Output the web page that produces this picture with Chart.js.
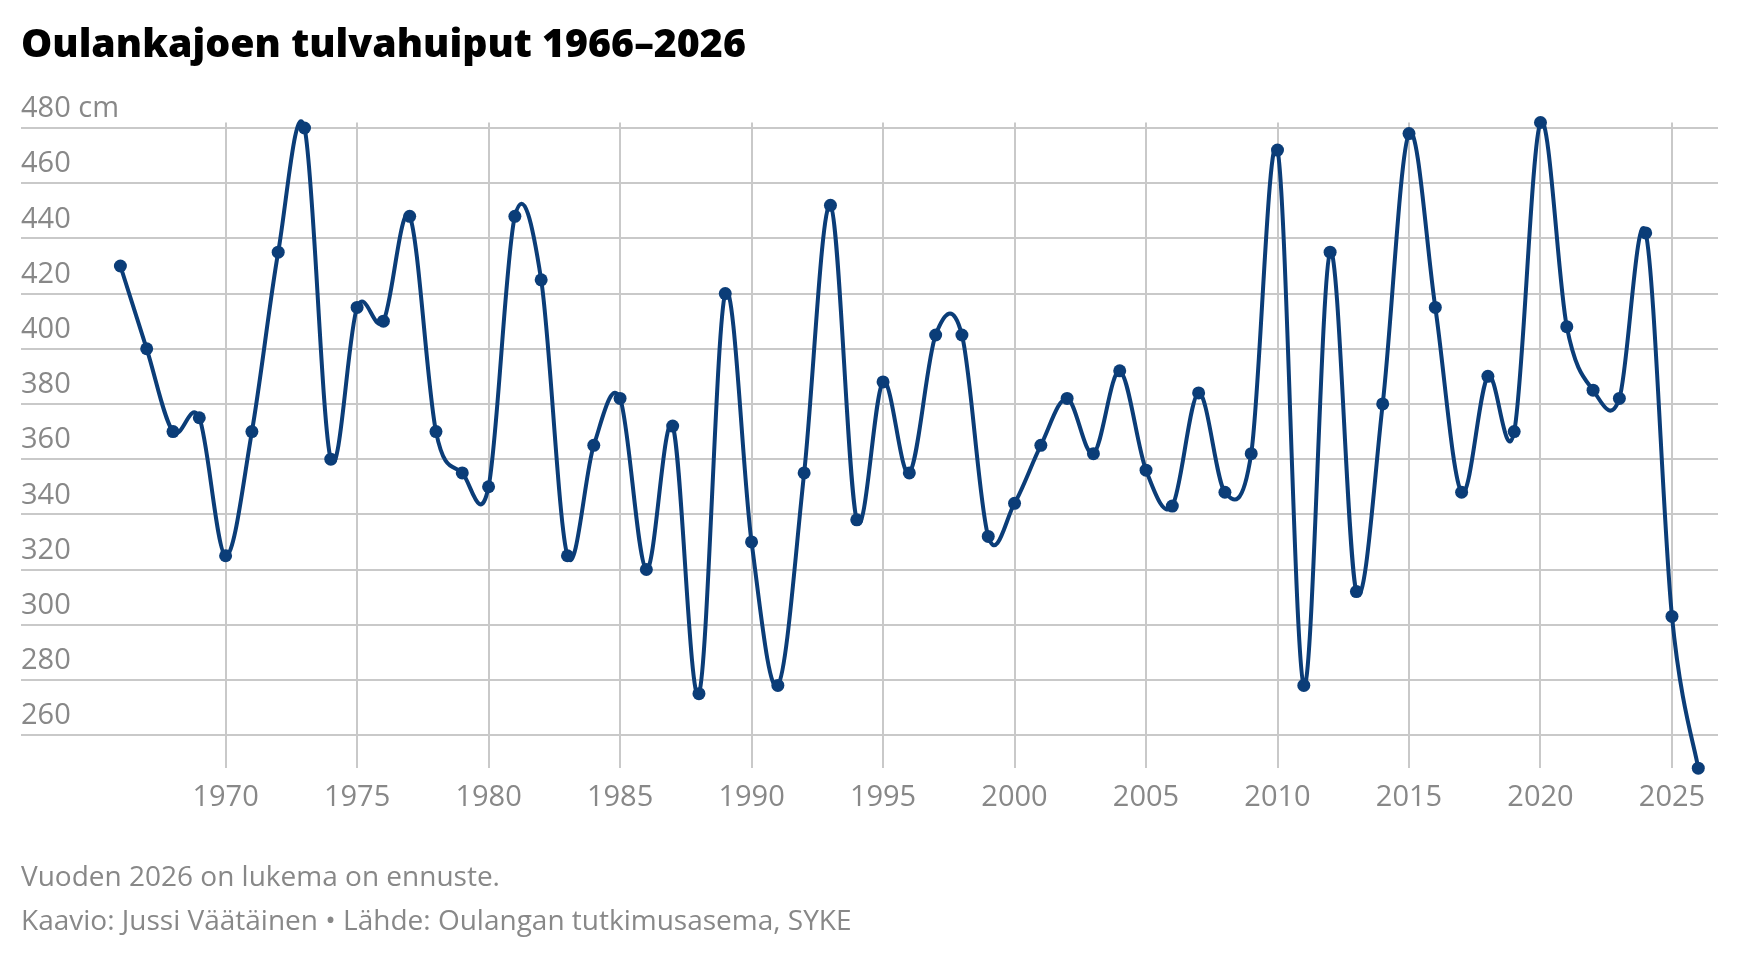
<!DOCTYPE html>
<html><head><meta charset="utf-8">
<script src="https://cdn.jsdelivr.net/npm/chart.js@4/dist/chart.umd.min.js"></script>
<style>
html,body{margin:0;padding:0;background:#fff;width:1740px;height:958px;overflow:hidden;font-family:"Open Sans",sans-serif;}
#wrap{position:absolute;left:0;top:0;width:1740px;height:958px;}
.t{position:absolute;left:21px;white-space:nowrap;line-height:1;}
#title{top:23px;font-size:39.3px;font-weight:800;color:#000;}
.note{font-size:28px;color:#888888;}
</style></head><body>
<div id="wrap"><canvas id="c" width="1740" height="958"></canvas></div>
<div class="t" id="title">Oulankajoen tulvahuiput 1966–2026</div>
<div class="t note" style="top:861px">Vuoden 2026 on lukema on ennuste.</div>
<div class="t note" style="top:905px">Kaavio: Jussi Väätäinen • Lähde: Oulangan tutkimusasema, SYKE</div>
<script>
const years = [1966,1967,1968,1969,1970,1971,1972,1973,1974,1975,1976,1977,1978,1979,1980,
  1981,1982,1983,1984,1985,1986,1987,1988,1989,1990,1991,1992,1993,1994,1995,1996,1997,1998,1999,2000,
  2001,2002,2003,2004,2005,2006,2007,2008,2009,2010,2011,2012,2013,2014,2015,2016,2017,2018,2019,2020,
  2021,2022,2023,2024,2025,2026];
const peaks = [430,400,370,375,325,370,435,480,360,415,410,448,370,355,350,
  448,425,325,365,382,320,372,275,420,330,278,355,452,338,388,355,405,405,332,344,
  365,382,362,392,356,343,384,348,362,472,278,435,312,380,478,415,348,390,370,482,
  408,385,382,442,303,248];
const yTicks = [260,280,300,320,340,360,380,400,420,440,460,480];
const xTicks = [1970,1975,1980,1985,1990,1995,2000,2005,2010,2015,2020,2025];
const unit = 'cm';

const LINE = '#0b3d78';
const GRID = '#c9c9c9';
const TXT = '#888888';

const uniformSpline = {
  id: 'uniformSpline',
  beforeDatasetDraw(chart, args) {
    const meta = args.meta;
    const line = meta.dataset;
    if (line && line.updateControlPoints) line.updateControlPoints(chart.chartArea, 'x');
    const pts = meta.data, n = pts.length;
    for (let i = 0; i < n; i++) {
      const p = pts[i], pr = pts[Math.max(i - 1, 0)], nx = pts[Math.min(i + 1, n - 1)];
      const dx = (nx.x - pr.x) / 6, dy = (nx.y - pr.y) / 6;
      p.cp1x = p.x - dx; p.cp1y = p.y - dy;
      p.cp2x = p.x + dx; p.cp2y = p.y + dy;
    }
    if (line) line._path = undefined;
  }
};

const font = {family: '"Open Sans", sans-serif', size: 29};

new Chart(document.getElementById('c'), {
  type: 'line',
  data: {
    datasets: [{
      data: years.map((y, i) => ({x: y, y: peaks[i]})),
      borderColor: LINE,
      borderWidth: 4,
      tension: 0.4,
      fill: false,
      clip: false,
      pointRadius: 6.5,
      pointHoverRadius: 6.5,
      pointBackgroundColor: LINE,
      pointBorderWidth: 0
    }]
  },
  options: {
    responsive: false,
    animation: false,
    events: [],
    layout: {padding: {left: 21, right: 22, top: 122.5, bottom: 131}},
    plugins: {legend: {display: false}, tooltip: {enabled: false}},
    scales: {
      x: {
        type: 'linear',
        min: 1962.22,
        max: 2026.75,
        afterBuildTicks: s => { s.ticks = xTicks.map(v => ({value: v})); },
        ticks: {callback: v => String(v), color: TXT, font: font, padding: 12, maxRotation: 0, autoSkip: false},
        grid: {color: GRID, lineWidth: 2, drawTicks: false},
        border: {display: false}
      },
      y: {
        type: 'linear',
        min: Math.min(...peaks),
        max: Math.max(...peaks),
        afterBuildTicks: s => { s.ticks = yTicks.map(v => ({value: v})); },
        ticks: {
          mirror: true, padding: 0, labelOffset: -19, color: TXT, font: font,
          callback: (v, i, arr) => i === arr.length - 1 ? v + ' ' + unit : String(v)
        },
        grid: {color: GRID, lineWidth: 2, drawTicks: false},
        border: {display: false}
      }
    }
  },
  plugins: [uniformSpline]
});
</script>
</body></html>
